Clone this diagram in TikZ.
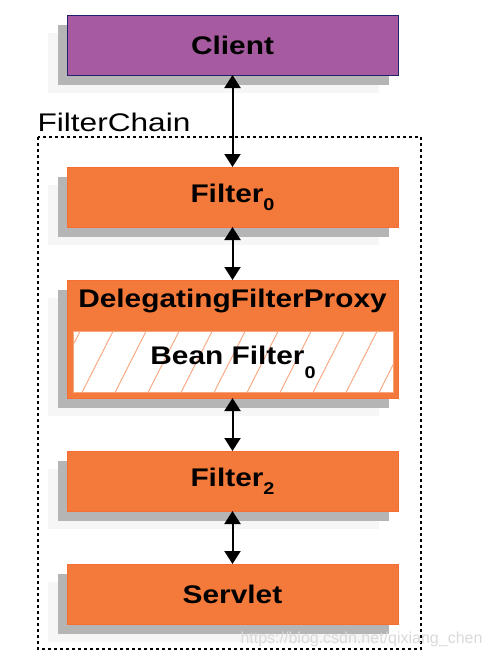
\documentclass[tikz,border=0pt]{standalone}
\usepackage{fontspec}
\setmainfont{Liberation Sans}
\newfontfamily\boxface[FakeStretch=1.17]{Liberation Sans}
\newfontfamily\chainface[FakeStretch=1.24]{Liberation Sans}
\usetikzlibrary{calc}
\usetikzlibrary{arrows.meta}
\usepackage{xcolor}
\definecolor{clientpurple}{HTML}{A65A9F}
\definecolor{clientline}{HTML}{23236B}
\definecolor{filterorange}{HTML}{F47A3B}
\definecolor{hatchorange}{HTML}{F8A47C}
\definecolor{shadowgray}{HTML}{B5B5B5}
\definecolor{paleshadow}{HTML}{F6F6F6}
\newcommand{\lowidx}[2][8pt]{\raisebox{-#1}{\fontsize{17}{17}\selectfont #2}}

\begin{document}
\begin{tikzpicture}[x=1pt, y=-1pt,
 shadowed/.style={preaction={fill=paleshadow, draw=none, transform canvas={shift={(-19pt,-18pt)}}},
                  preaction={fill=shadowgray, draw=none, transform canvas={shift={(-9pt,-10pt)}}}},
 filterbox/.style={shadowed, rectangle, fill=filterorange, draw=filterorange!90!red, line width=0.8pt,
                   minimum width=331pt, minimum height=60pt, inner sep=0pt, outer sep=0pt,
                   font=\boxface\bfseries\fontsize{25.5}{30}\selectfont},
 clientbox/.style={filterbox, fill=clientpurple, draw=clientline},
 hatch/.style={hatchorange, line width=0.9pt},
 link/.style={{Triangle[width=16pt,length=13pt]}-{Triangle[width=16pt,length=13pt]}, line width=2pt},
 chainframe/.style={black, line width=1.2pt, dash pattern=on 3pt off 3pt}]
\useasboundingbox (0,0) rectangle (495,656);

\node[clientbox] (client) at (232.5,45) {Client};

\draw[chainframe] (38,137) rectangle (421,649);
\node[anchor=base west, font=\chainface\fontsize{25.5}{30}\selectfont] (chainlabel) at (34,131) {FilterChain};

\node[filterbox] (filter0) at (232.5,197) {Filter\lowidx{0}};

\node[filterbox, minimum height=118pt] (proxy) at (232.5,339) {};
\node[anchor=base, font=\boxface\bfseries\fontsize{25.5}{30}\selectfont] (proxytitle) at ($(proxy.north)+(0,27)$) {DelegatingFilterProxy};
\node[rectangle, fill=white, draw=hatchorange, line width=0.8pt, minimum width=320pt, minimum height=61pt,
      inner sep=0pt, font=\boxface\bfseries\fontsize{25.5}{30}\selectfont,
      path picture={
        \foreach \k in {0,...,10} {
          \draw[hatch] ($(path picture bounding box.south west)+(\k*33-24,0)$) -- ++(35,-69);
        }
      }] (bean) at (233,362) {Bean Filter\lowidx[14pt]{0}};

\node[filterbox] (filter2) at (232.5,481) {Filter\lowidx{2}};
\node[filterbox] (servlet) at (232.5,594) {Servlet};

\draw[link] (client) -- (filter0);
\draw[link] (filter0) -- (proxy);
\draw[link] (proxy) -- (filter2);
\draw[link] (filter2) -- (servlet);

\node[anchor=base east, text=gray!30, font=\fontsize{16}{18}\selectfont] (mark) at (486,643) {https://blog.csdn.net/qixiang\_chen};
\end{tikzpicture}
\end{document}
